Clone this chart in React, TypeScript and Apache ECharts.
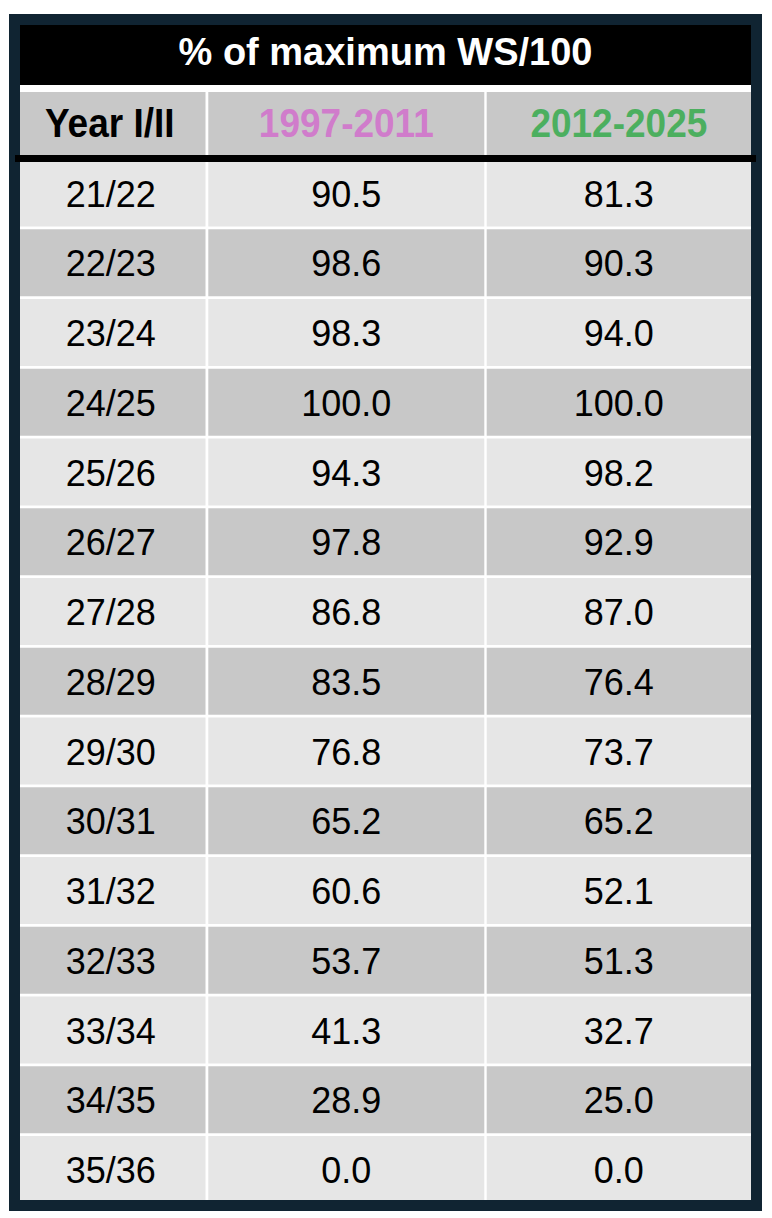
import React, { useEffect, useRef } from "react";
import * as echarts from "echarts";

// ---- data ----
const titleText = "% of maximum WS/100";
const headers = ["Year I/II", "1997-2011", "2012-2025"];
const headerColors = ["#000000", "#D07CCB", "#4CAF5F"];
const years = [
  "21/22", "22/23", "23/24", "24/25", "25/26", "26/27", "27/28", "28/29",
  "29/30", "30/31", "31/32", "32/33", "33/34", "34/35", "35/36",
];
const values1997 = [90.5, 98.6, 98.3, 100.0, 94.3, 97.8, 86.8, 83.5, 76.8, 65.2, 60.6, 53.7, 41.3, 28.9, 0.0];
const values2012 = [81.3, 90.3, 94.0, 100.0, 98.2, 92.9, 87.0, 76.4, 73.7, 65.2, 52.1, 51.3, 32.7, 25.0, 0.0];

// ---- layout ----
const FONT = '"Liberation Sans", Arial, Helvetica, sans-serif';
const INNER_X = 20;
const INNER_W = 731;
const COLS: [number, number][] = [
  [0, 185.5],
  [188.3, 464.3],
  [466.7, 731],
];
const ROW_GAP = 2.75;
const LIGHT = "#E6E6E6";
const DARK = "#C8C8C8";
const FRAME = "#102432";

export default function App() {
  const ref = useRef<HTMLDivElement>(null);

  useEffect(() => {
    if (!ref.current) return;
    const chart = echarts.init(ref.current, undefined, { renderer: "svg" });

    const data = years.map((_, i) => [i, values1997[i], values2012[i]]);

    const headerGraphics: any[] = [];
    headers.forEach((h, c) => {
      const [a, b] = COLS[c];
      headerGraphics.push({
        type: "rect",
        shape: { x: INNER_X + a, y: 92, width: b - a, height: 63 },
        style: { fill: DARK },
        z: 5,
      });
      headerGraphics.push({
        type: "text",
        x: INNER_X + (c === 0 ? (a + b) / 2 - 3 : (a + b) / 2),
        y: 123,
        scaleY: 1.08,
        style: {
          text: h,
          fill: headerColors[c],
          fontFamily: FONT,
          fontWeight: "bold",
          fontSize: 37,
          align: "center",
          verticalAlign: "middle",
        },
        z: 6,
      });
    });

    const option: any = {
      animation: false,
      backgroundColor: "#ffffff",
      grid: { left: INNER_X, top: 159.6, width: INNER_W, height: 1046.25 },
      xAxis: { type: "value", min: 0, max: 100, show: false },
      yAxis: { type: "category", data: years, inverse: true, show: false },
      series: [
        {
          type: "custom",
          encode: { x: 1, y: 0 },
          data,
          z: 2,
          renderItem: (params: any, api: any) => {
            const idx = api.value(0);
            const p = api.coord([0, idx]);
            const band = api.size([0, 1])[1];
            const top = p[1] - band / 2;
            const h = band - ROW_GAP;
            const cy = top + h / 2 + 1;
            const fill = idx % 2 === 0 ? LIGHT : DARK;
            const texts = [
              years[idx],
              Number(api.value(1)).toFixed(1),
              Number(api.value(2)).toFixed(1),
            ];
            const children: any[] = [];
            COLS.forEach(([a, b], c) => {
              children.push({
                type: "rect",
                shape: { x: p[0] + a, y: top, width: b - a, height: h },
                style: { fill },
              });
              children.push({
                type: "text",
                x: p[0] + (c === 0 ? (a + b) / 2 - 2 : (a + b) / 2),
                y: cy,
                style: {
                  text: texts[c],
                  fill: "#000000",
                  fontFamily: FONT,
                  fontSize: 36,
                  align: "center",
                  verticalAlign: "middle",
                },
              });
            });
            return { type: "group", children };
          },
        },
      ],
      graphic: [
        // title bar
        {
          type: "rect",
          shape: { x: INNER_X, y: 25, width: INNER_W, height: 60 },
          style: { fill: "#000000" },
          z: 5,
        },
        {
          type: "text",
          x: INNER_X + INNER_W / 2,
          y: 52,
          style: {
            text: titleText,
            fill: "#ffffff",
            fontFamily: FONT,
            fontWeight: "bold",
            fontSize: 38,
            align: "center",
            verticalAlign: "middle",
          },
          z: 6,
        },
        ...headerGraphics,
        // frame
        {
          type: "rect",
          shape: { x: 14.5, y: 19.5, width: 742, height: 1186 },
          style: { fill: "none", stroke: FRAME, lineWidth: 11 },
          z: 20,
        },
        // thick header rule
        {
          type: "rect",
          shape: { x: 15, y: 155, width: 741, height: 7 },
          style: { fill: "#000000" },
          z: 21,
        },
      ],
    };

    chart.setOption(option);
    return () => chart.dispose();
  }, []);

  return (
    <div
      ref={ref}
      style={{ position: "fixed", left: 0, top: 0, width: 772, height: 1218 }}
    />
  );
}
